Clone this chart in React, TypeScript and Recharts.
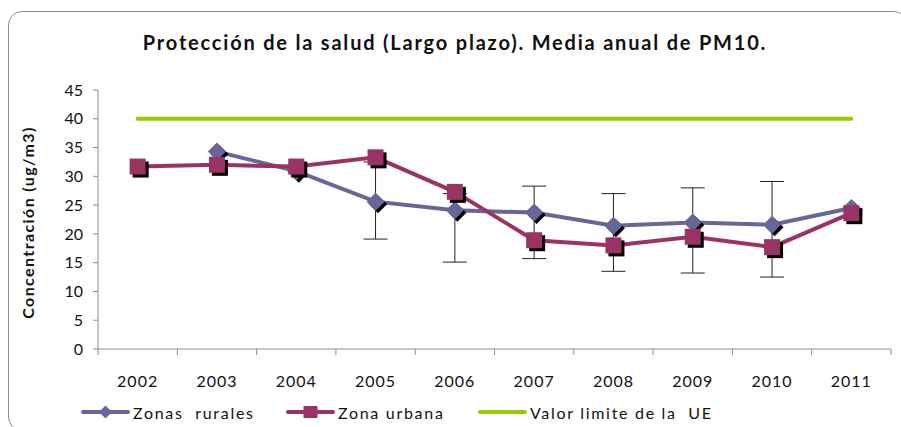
import { LineChart, Line, XAxis, YAxis, ErrorBar } from 'recharts';

const YEARS = [2002, 2003, 2004, 2005, 2006, 2007, 2008, 2009, 2010, 2011];
const RURAL = [null, 34.3, 30.9, 25.6, 24.1, 23.7, 21.4, 22.0, 21.6, 24.5];
const URBAN = [31.7, 32.0, 31.7, 33.3, 27.3, 18.9, 18.0, 19.5, 17.7, 23.6];
const LIMIT = [40, 40, 40, 40, 40, 40, 40, 40, 40, 40];
// extent of the error bars drawn on the rural series
const ERR_LOW = [null, null, null, 19.1, 15.1, 15.7, 13.5, 13.2, 12.5, null];
const ERR_HIGH = [null, null, null, 32.5, 27.0, 28.3, 27.0, 28.0, 29.1, null];
const Y_TICKS = [0, 5, 10, 15, 20, 25, 30, 35, 40, 45];

const RURAL_COLOR = '#666699';
const URBAN_COLOR = '#993366';
const LIMIT_COLOR = '#99cc00';
const AXIS_COLOR = '#8c8c8c';
const FONT = 'Lato, "Open Sans", sans-serif';

const data = YEARS.map((year, i) => ({
  year,
  rural: RURAL[i],
  urban: URBAN[i],
  limit: LIMIT[i],
  err:
    ERR_LOW[i] == null || RURAL[i] == null
      ? null
      : [RURAL[i]! - ERR_LOW[i]!, ERR_HIGH[i]! - RURAL[i]!],
}));

// Excel style: tick marks between categories, labels in the middle
const X_TICKS: number[] = [];
YEARS.forEach((y) => {
  X_TICKS.push(y - 0.5, y);
});
X_TICKS.push(YEARS[YEARS.length - 1] + 0.5);

function XTick(props: any) {
  const { x, y, payload } = props;
  const v = payload.value as number;
  if (v % 1 !== 0) {
    return <line x1={x} x2={x} y1={y} y2={y + 6} stroke={AXIS_COLOR} />;
  }
  return (
    <text x={x} y={y + 38} textAnchor="middle" fontSize={16} fontFamily={FONT} letterSpacing={1} fill="#111">
      {v}
    </text>
  );
}

function Diamond(props: any) {
  const { cx, cy, value } = props;
  if (value == null || cx == null) return null;
  const r = 9;
  const pts = (dx: number, dy: number) =>
    `${cx + dx},${cy + dy - r} ${cx + dx + r},${cy + dy} ${cx + dx},${cy + dy + r} ${cx + dx - r},${cy + dy}`;
  return (
    <g>
      <polygon points={pts(2.5, 2.5)} fill="#000" />
      <polygon points={pts(0, 0)} fill={RURAL_COLOR} />
    </g>
  );
}

function Square(props: any) {
  const { cx, cy, value } = props;
  if (value == null || cx == null) return null;
  const s = 8;
  return (
    <g>
      <rect x={cx - s + 3} y={cy - s + 3} width={s * 2} height={s * 2} fill="#000" />
      <rect x={cx - s} y={cy - s} width={s * 2} height={s * 2} fill={URBAN_COLOR} />
    </g>
  );
}

function YLabel(props: any) {
  const { viewBox } = props;
  const x = viewBox.x - 11;
  const y = viewBox.y + viewBox.height / 2 + 3;
  return (
    <text
      x={x}
      y={y}
      transform={`rotate(-90 ${x} ${y})`}
      textAnchor="middle"
      dominantBaseline="central"
      fontSize={16}
      fontWeight="bold"
      fontFamily={FONT}
      letterSpacing={1.4}
      fill="#111"
    >
      Concentración (ug/m3)
    </text>
  );
}

function LegendItem({ kind, label, left }: { kind: 'diamond' | 'square' | 'line'; label: string; left: number }) {
  const color = kind === 'diamond' ? RURAL_COLOR : kind === 'square' ? URBAN_COLOR : LIMIT_COLOR;
  return (
    <div style={{ position: 'absolute', left, top: 402, display: 'flex', alignItems: 'center' }}>
      <svg width={49} height={20}>
        <line x1={2} x2={47} y1={10} y2={10} stroke={color} strokeWidth={4} strokeLinecap="round" />
        {kind === 'diamond' && <polygon points="24.5,3.5 31,10 24.5,16.5 18,10" fill={color} />}
        {kind === 'square' && <rect x={17.5} y={4} width={14} height={12} fill={color} />}
      </svg>
      <span style={{ fontFamily: FONT, fontSize: 16, letterSpacing: 1.7, color: '#111', marginLeft: 3, whiteSpace: 'pre' }}>
        {label}
      </span>
    </div>
  );
}

export default function App() {
  return (
    <div style={{ position: 'absolute', left: 0, top: 0, width: 901, height: 427, background: '#fff', overflow: 'hidden' }}>
      <div
        style={{
          position: 'absolute',
          left: 8,
          top: 11,
          width: 900,
          height: 420,
          border: `1px solid ${AXIS_COLOR}`,
          borderRadius: 14,
          boxSizing: 'border-box',
        }}
      />
      <div
        style={{
          position: 'absolute',
          left: 0,
          width: 910,
          top: 30,
          textAlign: 'center',
          fontFamily: FONT,
          fontWeight: 'bold',
          fontSize: 20,
          letterSpacing: 1.8,
          color: '#111',
        }}
      >
        Protección de la salud (Largo plazo). Media anual de PM10.
      </div>
      <div style={{ position: 'absolute', left: 0, top: 0 }}>
        <LineChart width={901} height={427} data={data} margin={{ top: 90, right: 10, left: 38, bottom: 38 }}>
          <XAxis
            dataKey="year"
            type="number"
            domain={[YEARS[0] - 0.5, YEARS[YEARS.length - 1] + 0.5]}
            ticks={X_TICKS}
            interval={0}
            tickLine={false}
            tickSize={0}
            tickMargin={0}
            tick={<XTick />}
            height={40}
            stroke={AXIS_COLOR}
            allowDecimals
          />
          <YAxis
            domain={[0, 45]}
            ticks={Y_TICKS}
            interval={0}
            width={60}
            tickSize={5}
            tickMargin={10}
            stroke={AXIS_COLOR}
            tick={{ fontSize: 16, fontFamily: FONT, fill: '#111' }}
            label={<YLabel />}
          />
          <Line
            dataKey="limit"
            stroke={LIMIT_COLOR}
            strokeWidth={4}
            strokeLinecap="round"
            dot={false}
            activeDot={false}
            isAnimationActive={false}
          />
          <Line
            dataKey="rural"
            stroke={RURAL_COLOR}
            strokeWidth={4}
            dot={<Diamond />}
            activeDot={false}
            isAnimationActive={false}
          >
            <ErrorBar dataKey="err" direction="y" width={12} stroke="#222" strokeWidth={1} isAnimationActive={false} />
          </Line>
          <Line
            dataKey="urban"
            stroke={URBAN_COLOR}
            strokeWidth={4}
            dot={<Square />}
            activeDot={false}
            isAnimationActive={false}
          />
        </LineChart>
      </div>
      <LegendItem kind="diamond" label="Zonas  rurales" left={81} />
      <LegendItem kind="square" label="Zona urbana" left={286} />
      <LegendItem kind="line" label="Valor limite de la  UE" left={478} />
    </div>
  );
}
